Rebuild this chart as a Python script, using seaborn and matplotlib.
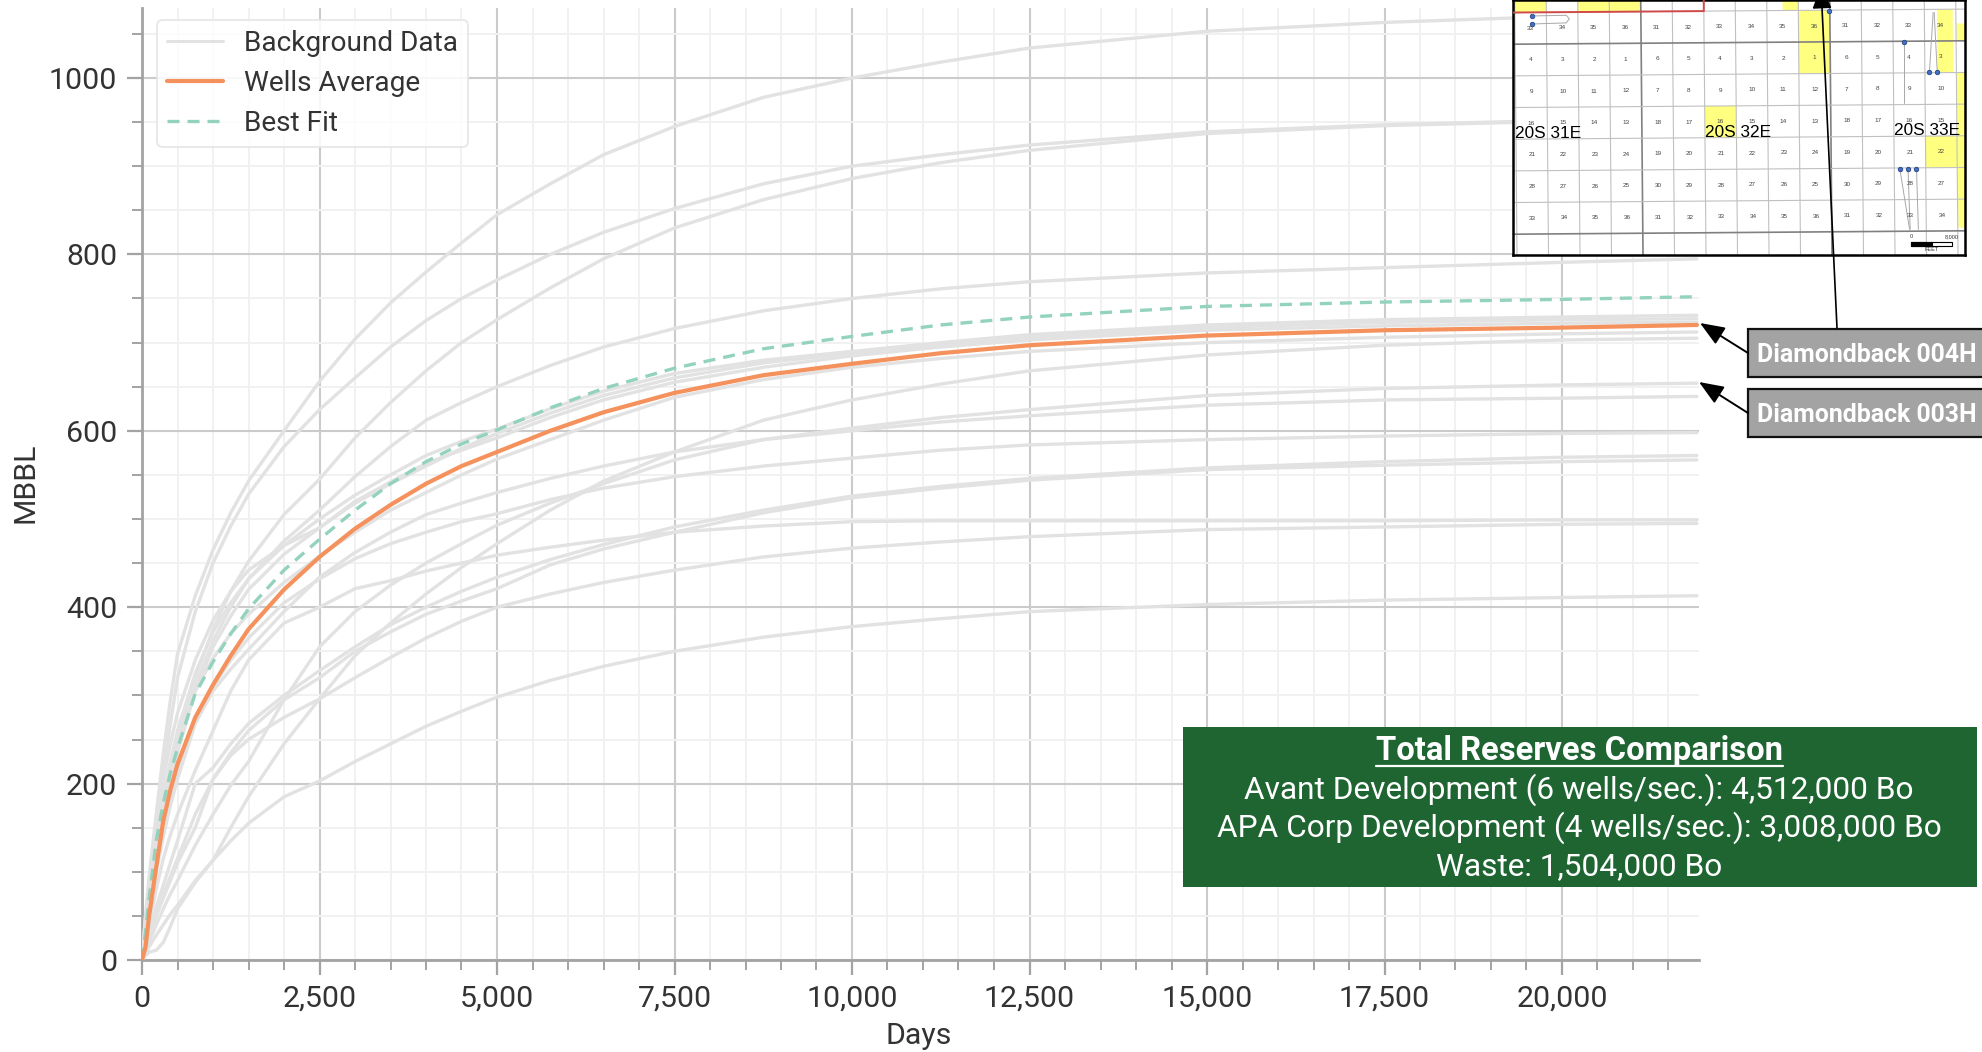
import numpy as np
import pandas as pd
import matplotlib
matplotlib.use("Agg")
import matplotlib.pyplot as plt
from matplotlib.ticker import MultipleLocator, FuncFormatter
from matplotlib.patches import Rectangle, Polygon
import seaborn as sns

DAYS = [0, 50, 100, 200, 300, 400, 500, 750, 1000, 1250, 1500, 2000, 2500, 3000, 3500, 4000, 4500, 5000, 5750, 6500, 7500, 8750, 10000, 11250, 12500, 15000, 17500, 20000, 21900]

BG_A = [0, 50, 95, 165, 234, 295, 347, 413, 465, 507, 543, 600, 656, 704, 745, 780, 813, 845, 880, 913, 945, 978, 1000, 1018, 1034, 1053, 1063, 1070, 1074]
BG_B = [0, 45, 85, 150, 210, 268, 320, 395, 450, 492, 528, 582, 624, 660, 695, 725, 750, 771, 800, 825, 852, 880, 900, 913, 924, 939, 947, 952, 955]
BG_C = [0, 30, 60, 120, 170, 212, 250, 320, 375, 418, 452, 505, 545, 592, 632, 668, 700, 726, 762, 795, 830, 862, 886, 904, 918, 937, 946, 951, 953]
BG_D = [0, 30, 60, 115, 165, 205, 240, 310, 362, 400, 432, 475, 510, 548, 582, 612, 632, 650, 674, 695, 716, 736, 750, 761, 769, 779, 785, 791, 795]
BG_E1 = [0, 35, 70, 135, 185, 225, 260, 325, 372, 405, 432, 470, 500, 527, 550, 572, 588, 602, 625, 645, 665, 680, 690, 700, 709, 720, 726, 729, 731]
BG_E2 = [0, 30, 60, 115, 165, 202, 235, 305, 355, 390, 420, 460, 490, 520, 542, 563, 578, 592, 615, 635, 655, 672, 685, 695, 703, 714, 719, 722, 723]
BG_E3 = [0, 50, 85, 150, 205, 245, 280, 340, 385, 418, 442, 470, 490, 518, 540, 560, 580, 597, 620, 640, 660, 677, 688, 698, 706, 717, 723, 726, 727]
BG_F1 = [0, 40, 75, 135, 180, 218, 250, 305, 342, 370, 392, 428, 458, 485, 510, 530, 550, 568, 590, 612, 638, 658, 672, 682, 690, 700, 706, 710, 712]
BG_F2 = [0, 8, 15, 28, 40, 52, 62, 90, 113, 150, 185, 245, 296, 345, 382, 415, 445, 472, 510, 543, 576, 612, 635, 653, 668, 686, 697, 703, 705]
BG_G = [0, 10, 20, 40, 58, 75, 90, 130, 165, 198, 225, 295, 355, 395, 425, 450, 472, 493, 518, 540, 567, 590, 603, 615, 624, 640, 648, 652, 654]
BG_H = [0, 25, 50, 100, 140, 175, 205, 268, 305, 330, 352, 395, 434, 462, 485, 505, 518, 530, 546, 560, 576, 590, 600, 610, 617, 629, 635, 637, 639]
BG_I = [0, 30, 55, 105, 150, 185, 215, 270, 310, 340, 365, 405, 432, 455, 472, 485, 497, 506, 522, 535, 548, 560, 569, 578, 584, 590, 594, 597, 598]
BG_K1 = [0, 15, 30, 60, 85, 110, 135, 200, 218, 245, 268, 300, 328, 355, 380, 400, 418, 434, 454, 471, 491, 510, 526, 537, 546, 558, 565, 570, 572]
BG_K2 = [0, 12, 25, 50, 75, 95, 115, 165, 205, 235, 260, 295, 320, 350, 372, 392, 407, 421, 448, 466, 485, 507, 524, 535, 544, 556, 561, 565, 567]
BG_L = [0, 20, 40, 80, 115, 142, 165, 215, 260, 305, 340, 382, 400, 421, 430, 441, 450, 459, 468, 476, 485, 492, 497, 498, 498, 498, 498, 499, 499]
BG_M = [0, 12, 25, 50, 70, 90, 110, 150, 205, 232, 250, 275, 296, 320, 343, 365, 384, 400, 415, 428, 442, 457, 467, 474, 480, 488, 491, 494, 495]
BG_N = [0, 5, 9, 11, 20, 38, 58, 88, 113, 135, 155, 185, 203, 225, 245, 265, 282, 298, 317, 333, 350, 366, 378, 387, 395, 403, 408, 411, 413]

WELLS_AVG = [0, 15, 50, 105, 158, 193, 222, 275, 312, 345, 375, 420, 457, 489, 516, 540, 560, 576, 600, 621, 643, 663, 676, 688, 697, 708, 714, 717, 720]
BEST_FIT = [0, 32, 70, 135, 178, 212, 240, 302, 338, 370, 398, 442, 477, 510, 540, 565, 585, 601, 626, 648, 671, 693, 707, 720, 729, 741, 746, 749, 752]

BG_CURVES = [BG_A, BG_B, BG_C, BG_D, BG_E1, BG_E2, BG_E3, BG_F1, BG_F2, BG_G, BG_H, BG_I, BG_K1, BG_K2, BG_L, BG_M, BG_N]

X_TICKS = [0, 2500, 5000, 7500, 10000, 12500, 15000, 17500, 20000]
Y_TICKS = [0, 200, 400, 600, 800, 1000]

LEGEND_LABELS = ["Background Data", "Wells Average", "Best Fit"]
CALLOUTS = ["Diamondback 004H", "Diamondback 003H"]
BOX_TITLE = "Total Reserves Comparison"
BOX_LINES = ["Avant Development (6 wells/sec.): 4,512,000 Bo",
             "APA Corp Development (4 wells/sec.): 3,008,000 Bo",
             "Waste: 1,504,000 Bo"]

SECTION_ROWS = [
    [33, 34, 35, 36, 31, 32, 33, 34, 35, 36, 31, 32, 33, 34],
    [4, 3, 2, 1, 6, 5, 4, 3, 2, 1, 6, 5, 4, 3],
    [9, 10, 11, 12, 7, 8, 9, 10, 11, 12, 7, 8, 9, 10],
    [16, 15, 14, 13, 18, 17, 16, 15, 14, 13, 18, 17, 16, 15],
    [21, 22, 23, 24, 19, 20, 21, 22, 23, 24, 19, 20, 21, 22],
    [28, 27, 26, 25, 30, 29, 28, 27, 26, 25, 30, 29, 28, 27],
    [33, 34, 35, 36, 31, 32, 33, 34, 35, 36, 31, 32, 33, 34],
]
TOWNSHIPS = ["20S 31E", "20S 32E", "20S 33E"]

GREY = "#e2e2e2"
ORANGE = "#f4915c"
MINT = "#93d3bd"
AXIS = "#a3a3a3"
TEXT = "#333333"
FIT_DASH = (0, (3.6, 2.4))

sns.set_theme(style="white")
plt.rcParams["font.family"] = ["Roboto", "DejaVu Sans"]

W, H = 1982, 1052
fig = plt.figure(figsize=(W / 100, H / 100), dpi=100, facecolor="white")

AX_L, AX_R, AX_T, AX_B = 142, 1699, 8, 960
ax = fig.add_axes([AX_L / W, 1 - AX_B / H, (AX_R - AX_L) / W, (AX_B - AX_T) / H])

df = pd.DataFrame({
    "Days": DAYS * len(BG_CURVES),
    "MBBL": sum(BG_CURVES, []),
    "well": np.repeat(np.arange(len(BG_CURVES)), len(DAYS)),
})
sns.lineplot(data=df, x="Days", y="MBBL", units="well", estimator=None, color=GREY,
             lw=2.4, ax=ax, legend=False, zorder=3)
bg_handle = plt.Line2D([], [], color=GREY, lw=2.2)
sns.lineplot(x=DAYS, y=WELLS_AVG, color=ORANGE, lw=3.0, ax=ax, legend=False, zorder=5)
avg_handle = plt.Line2D([], [], color=ORANGE, lw=3.0)
sns.lineplot(x=DAYS, y=BEST_FIT, color=MINT, lw=2.4, ax=ax, legend=False, zorder=4,
             linestyle=FIT_DASH)
fit_handle = plt.Line2D([], [], color=MINT, lw=2.4, linestyle=FIT_DASH)

ax.set_xlim(0, (AX_R - AX_L) / 0.071)
ax.set_ylim(0, (AX_B - AX_T) / 0.882)
ax.set_xticks(X_TICKS)
ax.set_yticks(Y_TICKS)
ax.xaxis.set_minor_locator(MultipleLocator(500))
ax.yaxis.set_minor_locator(MultipleLocator(50))
ax.xaxis.set_major_formatter(FuncFormatter(lambda v, p: f"{int(v):,}"))
ax.set_axisbelow(True)
ax.grid(True, which="major", color="#cbcbcb", lw=1.5)
ax.grid(True, which="minor", color="#f1f1f1", lw=1.4)
for s in ["top", "right"]:
    ax.spines[s].set_visible(False)
for s in ["left", "bottom"]:
    ax.spines[s].set_color(AXIS)
    ax.spines[s].set_linewidth(2.0)
ax.tick_params(which="major", length=10.8, width=1.6, color=AXIS, labelsize=21.8, labelcolor=TEXT, pad=7)
ax.tick_params(which="minor", length=7.2, width=1.4, color=AXIS)
ax.tick_params(which="both", bottom=True, left=True)
ax.set_xlabel("Days", fontsize=21.8, color=TEXT)
ax.set_ylabel("MBBL", fontsize=21.8, color=TEXT)
ax.xaxis.set_label_coords((919 - AX_L) / (AX_R - AX_L), -(1036 - AX_B) / (AX_B - AX_T), transform=ax.transAxes)
ax.xaxis.label.set_va("center")
ax.yaxis.set_label_coords(-(AX_L - 25) / (AX_R - AX_L), (AX_B - 483) / (AX_B - AX_T))
ax.yaxis.label.set_va("center")

leg = ax.legend([bg_handle, avg_handle, fit_handle], LEGEND_LABELS, loc="upper left",
                bbox_to_anchor=((157 - AX_L) / (AX_R - AX_L), 1 - (20 - AX_T) / (AX_B - AX_T)),
                borderaxespad=0, fontsize=20.2, frameon=True, framealpha=0.85, edgecolor="#e6e6e6",
                fancybox=True, handlelength=2.0, handletextpad=0.75, labelspacing=0.46,
                borderpad=0.36, labelcolor=TEXT)
leg.get_frame().set_linewidth(1.5)
leg.set_zorder(6)

# ---- inset section map ----
MAP_L, MAP_R, MAP_T, MAP_B = 1513, 1965, 0, 255
mp = fig.add_axes([MAP_L / W, 1 - MAP_B / H, (MAP_R - MAP_L) / W, (MAP_B - MAP_T) / H], zorder=8)
mp.set_xlim(-0.09, 14.26)
mp.set_ylim(7.71, -0.343)
mp.set_xticks([])
mp.set_yticks([])
for s in mp.spines.values():
    s.set_color("black")
    s.set_linewidth(1.8)


def tilt(c, r):
    return c + 0.009 * (r - 3.5), r - 0.0075 * (c - 7)


YELLOW = "#ffff80"
YELLOW_CELLS = [(0, -1, 1, 1), (2, -1, 2, 1), (8.5, -1, 0.5, 1), (9, 0, 1, 2), (13.4, 0, 0.5, 2),
                (6, 3, 1, 1), (13, 4, 1, 1), (14.02, 0.45, 0.3, 0.55), (14.02, 2, 0.3, 4.9)]
for c, r, w, h in YELLOW_CELLS:
    pts = [tilt(c, r), tilt(c + w, r), tilt(c + w, r + h), tilt(c, r + h)]
    mp.add_patch(Polygon(pts, closed=True, facecolor=YELLOW, edgecolor="none", zorder=1))

for c in range(0, 15):
    thick = c in (4, 10)
    xs, ys = zip(*[tilt(c, -1), tilt(c, 8)])
    mp.plot(xs, ys, color="#808080" if thick else "#c0c0c0", lw=1.2 if thick else 0.8, zorder=2)
for r in range(0, 8):
    thick = r in (1, 7)
    xs, ys = zip(*[tilt(-1, r), tilt(15, r)])
    mp.plot(xs, ys, color="#808080" if thick else "#c0c0c0", lw=1.2 if thick else 0.8, zorder=2)

xs, ys = zip(*[tilt(-1, 0), tilt(6, 0), tilt(6, -1)])
mp.plot(xs, ys, color="#cf4a48", lw=1.4, zorder=3)

for r, row in enumerate(SECTION_ROWS):
    for c, lab in enumerate(row):
        x, y = tilt(c + 0.5, r + 0.5)
        mp.text(x, y, str(lab), fontsize=4.6, color="#444444", ha="center", va="center",
                family="Liberation Sans", zorder=4)

LATERALS = [([0.5, 1.6, 1.7, 1.6, 0.5], [0.16, 0.14, 0.25, 0.38, 0.415]),
            ([13.13, 13.25], [1.94, 0.05]), ([13.38, 13.28], [1.94, 0.05]),
            ([12.32, 12.32], [0.99, 2.9]), ([12.19, 12.5], [4.98, 6.9]),
            ([12.45, 12.52], [4.98, 6.9]), ([12.72, 12.78], [4.98, 6.9])]
for lx, ly in LATERALS:
    mp.plot(lx, ly, color="#a8a8a8", lw=0.7, zorder=3)
DOTS_C = [0.5, 0.5, 9.94, 12.32, 13.13, 13.38, 12.19, 12.45, 12.72]
DOTS_R = [0.16, 0.415, -0.006, 0.99, 1.94, 1.94, 4.98, 4.98, 4.98]
mp.scatter(DOTS_C, DOTS_R, s=11, color="#3d6fc4", edgecolor="#223a7a", linewidth=0.5, zorder=5)

for lab, c, r in zip(TOWNSHIPS, [1.02, 7.05, 13.05], [3.86, 3.83, 3.77]):
    mp.text(c, r, lab, fontsize=12.4, color="black", ha="center", va="center",
            family="Liberation Sans", zorder=6)

mp.add_patch(Rectangle((12.56, 7.3), 1.3, 0.14, facecolor="white", edgecolor="black", lw=0.8, zorder=6))
mp.add_patch(Rectangle((12.56, 7.3), 0.65, 0.14, facecolor="black", edgecolor="black", lw=0.8, zorder=6))
mp.text(12.55, 7.14, "0", fontsize=4, ha="center", va="center", color="#333333", family="Liberation Sans", zorder=6)
mp.text(13.84, 7.14, "8,000", fontsize=4, ha="center", va="center", color="#333333", family="Liberation Sans", zorder=6)
mp.text(13.2, 7.55, "FEET", fontsize=4, ha="center", va="center", color="#333333", family="Liberation Sans", zorder=6)

# ---- overlay in pixel units for annotation boxes ----
ov = fig.add_axes([0, 0, 1, 1], zorder=10)
ov.set_xlim(0, W)
ov.set_ylim(H, 0)
ov.axis("off")
ov.patch.set_alpha(0)

GREEN = "#1e6532"
ov.add_patch(Rectangle((1183, 727), 794, 160, facecolor=GREEN, edgecolor="none"))
ov.text(1579, 751, BOX_TITLE, color="white", fontsize=23.6, fontweight="bold", ha="center", va="center")
ov.plot([1376, 1783], [765.5, 765.5], color="white", lw=1.6)
for t, y in zip(BOX_LINES, [790, 828, 867]):
    ov.text(1579, y, t, color="white", fontsize=22.75, ha="center", va="center")

for y0, y1, t, ty, tip in [(329, 377, CALLOUTS[0], 355, (1700, 323)), (389, 437, CALLOUTS[1], 415, (1699, 382))]:
    ov.add_patch(Rectangle((1748, y0), 300, y1 - y0, facecolor="#a3a3a3", edgecolor="#111111", lw=1.6, clip_on=True))
    ov.text(1757, ty, t, color="white", fontsize=17.9, fontweight="bold", ha="left", va="center")
    ov.annotate("", xy=tip, xytext=(1748, (y0 + y1) / 2),
                arrowprops=dict(arrowstyle="-|>,head_length=0.75,head_width=0.3", color="black", lw=1.4,
                                mutation_scale=20, shrinkA=0, shrinkB=0))
ov.annotate("", xy=(1821, -14), xytext=(1837, 328), annotation_clip=False,
            arrowprops=dict(arrowstyle="-|>,head_length=0.7,head_width=0.3", color="black", lw=1.2,
                            mutation_scale=20, shrinkA=0, shrinkB=0))

fig.savefig("out.png", dpi=100)
